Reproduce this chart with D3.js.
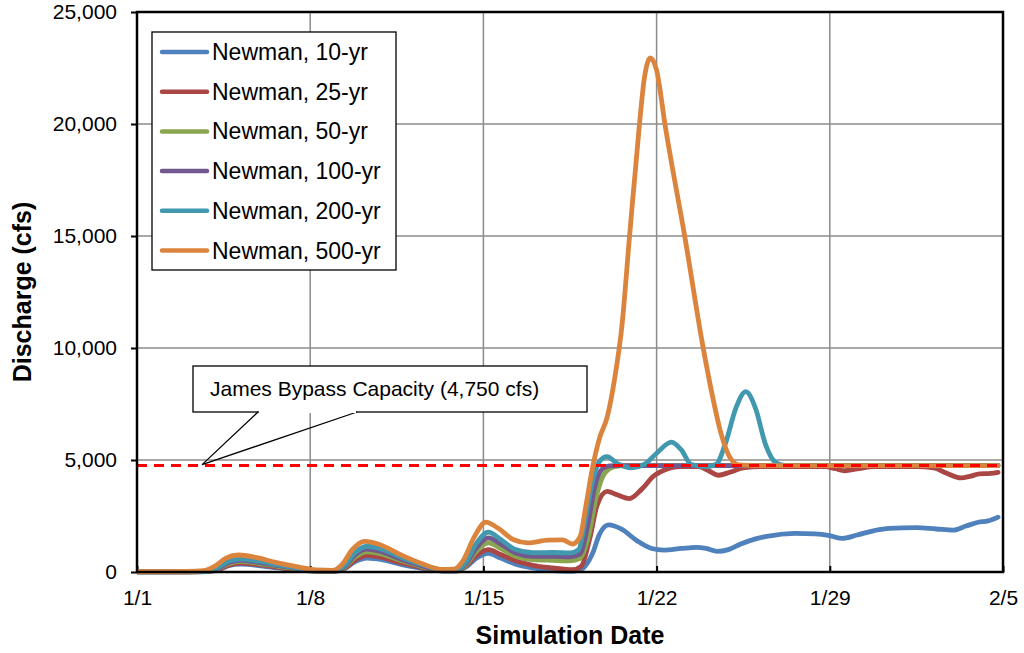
<!DOCTYPE html>
<html>
<head>
<meta charset="utf-8">
<script src="https://cdn.jsdelivr.net/npm/d3@7/dist/d3.min.js"></script>
<style>
  html, body { margin: 0; padding: 0; background: #fff; }
  svg { display: block; font-family: Arial, "Liberation Sans", sans-serif; }
</style>
</head>
<body>
<svg id="chart" width="1024" height="653"></svg>
<script>
// Discharge at Newman for each return-period event, [day since 1/1, cfs]
const newman10 = [[0,5],[2,5],[2.8,15],[3.3,100],[3.7,280],[4.2,350],[4.9,290],[5.7,180],[6.6,80],[7.4,30],[8,30],[8.4,150],[8.8,450],[9.3,620],[9.9,550],[10.7,330],[11.6,150],[12.4,40],[12.9,40],[13.3,230],[13.7,600],[14.2,830],[14.7,620],[15.3,350],[16,180],[16.8,60],[17.6,30],[18.0,150],[18.4,800],[18.7,1700],[19.05,2100],[19.6,1900],[20.2,1400],[20.8,1050],[21.3,980],[22,1050],[22.6,1100],[23.0,1050],[23.45,920],[23.9,1000],[24.4,1250],[25,1480],[25.8,1650],[26.6,1720],[27.4,1700],[28,1620],[28.5,1500],[29.1,1650],[29.8,1850],[30.4,1950],[31.5,1980],[32.3,1920],[33.0,1870],[33.5,2050],[34.0,2220],[34.4,2280],[34.8,2450]];
const newman25 = [[0,5],[2,8],[2.8,20],[3.3,120],[3.7,300],[4.2,400],[4.9,330],[5.7,210],[6.6,100],[7.4,40],[8,40],[8.4,170],[8.8,520],[9.3,740],[9.9,650],[10.7,400],[11.6,180],[12.4,50],[12.9,50],[13.3,270],[13.7,720],[14.2,1000],[14.7,780],[15.3,500],[16,300],[16.8,180],[17.6,100],[17.95,250],[18.3,1500],[18.6,3000],[19.0,3600],[19.4,3450],[19.9,3280],[20.4,3700],[20.9,4300],[21.2,4500],[22.0,4700],[22.7,4700],[23.1,4520],[23.5,4320],[23.95,4450],[24.5,4650],[25.2,4700],[27.8,4700],[28.2,4620],[28.6,4520],[29.1,4600],[29.8,4700],[31.5,4700],[32.2,4650],[32.7,4420],[33.3,4200],[33.7,4280],[34.05,4380],[34.5,4400],[34.8,4450]];
const newman50 = [[0,8],[2,10],[2.8,25],[3.3,150],[3.7,370],[4.2,470],[4.9,390],[5.7,250],[6.6,120],[7.4,45],[8,45],[8.4,210],[8.8,650],[9.3,900],[9.9,800],[10.7,500],[11.6,220],[12.4,60],[12.9,60],[13.3,320],[13.7,900],[14.2,1300],[14.7,1050],[15.3,700],[16,550],[16.8,520],[17.5,500],[17.9,600],[18.25,1600],[18.55,3300],[18.9,4400],[19.3,4700],[19.7,4750],[34.8,4750]];
const newman100 = [[0,10],[2,12],[2.8,30],[3.3,180],[3.7,420],[4.2,520],[4.9,430],[5.7,280],[6.6,140],[7.4,50],[8,50],[8.4,250],[8.8,750],[9.3,1020],[9.9,900],[10.7,560],[11.6,250],[12.4,70],[12.9,70],[13.3,380],[13.7,1050],[14.2,1520],[14.7,1250],[15.3,850],[16,700],[16.8,700],[17.5,680],[17.9,800],[18.2,2000],[18.5,3800],[18.8,4600],[19.1,4740],[19.5,4750],[34.8,4750]];
const newman200 = [[0,10],[2,15],[2.8,40],[3.3,220],[3.7,480],[4.2,580],[4.9,480],[5.7,320],[6.6,160],[7.4,60],[8,60],[8.4,300],[8.8,850],[9.3,1150],[9.9,1020],[10.7,650],[11.6,300],[12.4,90],[12.9,90],[13.3,450],[13.7,1250],[14.2,1780],[14.7,1450],[15.3,1000],[16,860],[16.8,870],[17.5,850],[17.85,1000],[18.1,2200],[18.4,4000],[18.7,4950],[19.0,5150],[19.4,4850],[20.0,4650],[20.5,4800],[21.0,5300],[21.6,5800],[22.0,5450],[22.4,4800],[23.0,4700],[23.4,4800],[23.8,5800],[24.2,7300],[24.6,8050],[25.0,7300],[25.4,5700],[25.8,4900],[26.2,4750],[34.8,4750]];
const newman500 = [[0,20],[1,20],[2,25],[2.7,60],[3.2,300],[3.6,620],[4.1,760],[4.8,650],[5.6,430],[6.5,230],[7.3,90],[7.9,70],[8.3,350],[8.7,1000],[9.2,1370],[9.8,1230],[10.6,800],[11.5,380],[12.3,120],[12.8,130],[13.2,550],[13.6,1500],[14.1,2230],[14.6,1950],[15.2,1450],[15.8,1300],[16.6,1420],[17.2,1430],[17.6,1250],[17.9,1550],[18.15,3000],[18.4,4600],[18.7,6000],[19.0,6900],[19.3,8600],[19.6,11000],[19.9,14900],[20.3,19900],[20.5,22000],[20.75,22950],[21.0,22400],[21.35,19900],[22.15,14900],[22.9,9900],[23.25,7900],[23.6,6200],[24.0,5050],[24.35,4780],[25,4750],[34.8,4750]];

const seriesNames = ["Newman, 10-yr","Newman, 25-yr","Newman, 50-yr","Newman, 100-yr","Newman, 200-yr","Newman, 500-yr"];
const seriesValues = [newman10, newman25, newman50, newman100, newman200, newman500];
const seriesColors = ["#4f81bd","#aa4643","#89a54e","#71588f","#4198af","#db843d"];

const dayTicks = [0, 7, 14, 21, 28, 35];
const dayTickLabels = ["1/1","1/8","1/15","1/22","1/29","2/5"];
const flowTicks = [0, 5000, 10000, 15000, 20000, 25000];

const capacity = 4750;
const capacityLabel = "James Bypass Capacity (4,750 cfs)";
const calloutDay = 2.63;

const svg = d3.select("#chart");
const plot = { left: 137, right: 1003, top: 12, bottom: 572 };

const x = d3.scaleLinear().domain([0, 35]).range([plot.left, plot.right]);
const y = d3.scaleLinear().domain([0, 25000]).range([plot.bottom, plot.top]);

// gridlines
const grid = svg.append("g");
grid.selectAll("line.h").data(flowTicks.slice(1)).join("line")
  .attr("x1", plot.left).attr("x2", plot.right)
  .attr("y1", d => y(d)).attr("y2", d => y(d))
  .attr("stroke", "#8c8c8c").attr("stroke-width", 1.5);
grid.selectAll("line.v").data(dayTicks.slice(1, -1)).join("line")
  .attr("x1", d => x(d)).attr("x2", d => x(d))
  .attr("y1", plot.top).attr("y2", plot.bottom)
  .attr("stroke", "#8c8c8c").attr("stroke-width", 1.5);

// axes
const yAxis = d3.axisLeft(y).tickValues(flowTicks).tickSize(6).tickPadding(14)
  .tickFormat(d3.format(","));
const gy = svg.append("g").attr("transform", `translate(${plot.left},0)`).call(yAxis);
gy.select(".domain").remove();
gy.selectAll(".tick line").attr("stroke", "#000").attr("stroke-width", 2);
gy.selectAll(".tick text").attr("font-size", 21).attr("fill", "#000")
  .attr("font-family", "Arial, 'Liberation Sans', sans-serif");

const xAxis = d3.axisBottom(x).tickValues(dayTicks).tickSize(-6).tickPadding(18)
  .tickFormat((d, i) => dayTickLabels[i]);
const gx = svg.append("g").attr("transform", `translate(0,${plot.bottom})`).call(xAxis);
gx.select(".domain").remove();
gx.selectAll(".tick line").attr("stroke", "#000").attr("stroke-width", 2);
gx.selectAll(".tick text").attr("font-size", 21).attr("fill", "#000")
  .attr("font-family", "Arial, 'Liberation Sans', sans-serif");

// series lines
const line = d3.line().x(d => x(d[0])).y(d => y(d[1])).curve(d3.curveMonotoneX);
const clip = svg.append("clipPath").attr("id", "plotclip").append("rect")
  .attr("x", plot.left).attr("y", plot.top)
  .attr("width", plot.right - plot.left).attr("height", plot.bottom - plot.top + 3);
svg.append("g").attr("clip-path", "url(#plotclip)")
  .selectAll("path").data(seriesValues).join("path")
  .attr("d", line)
  .attr("fill", "none")
  .attr("stroke", (d, i) => seriesColors[i])
  .attr("stroke-width", 4.8)
  .attr("stroke-linejoin", "round")
  .attr("stroke-linecap", "round");

// bypass capacity threshold
svg.append("line")
  .attr("x1", x(0)).attr("x2", x(34.8))
  .attr("y1", y(capacity)).attr("y2", y(capacity))
  .attr("stroke", "#ff0000").attr("stroke-width", 3)
  .attr("stroke-dasharray", "10,7");

// plot frame
svg.append("rect")
  .attr("x", plot.left).attr("y", plot.top)
  .attr("width", plot.right - plot.left).attr("height", plot.bottom - plot.top)
  .attr("fill", "none").attr("stroke", "#000").attr("stroke-width", 2.5);

// callout for the capacity line
const callout = svg.append("g");
callout.append("rect")
  .attr("x", 193).attr("y", 366).attr("width", 394).attr("height", 46)
  .attr("fill", "#fff").attr("stroke", "#000").attr("stroke-width", 1.3);
const tipX = x(calloutDay), tipY = y(capacity) - 1;
callout.append("polyline")
  .attr("points", `258,412 ${tipX},${tipY} 357,412`)
  .attr("fill", "none").attr("stroke", "#000").attr("stroke-width", 1.3);
callout.append("line")
  .attr("x1", 259).attr("x2", 356).attr("y1", 412).attr("y2", 412)
  .attr("stroke", "#fff").attr("stroke-width", 2);
callout.append("text")
  .attr("x", 210).attr("y", 396)
  .attr("font-size", 21).attr("fill", "#000")
  .text(capacityLabel);

// legend
const legend = svg.append("g");
legend.append("rect")
  .attr("x", 152).attr("y", 32).attr("width", 244).attr("height", 238)
  .attr("fill", "#fff").attr("stroke", "#000").attr("stroke-width", 1.3);
const rows = legend.selectAll("g.row").data(seriesNames).join("g")
  .attr("transform", (d, i) => `translate(0,${52 + i * 39.7})`);
rows.append("line")
  .attr("x1", 162).attr("x2", 207).attr("y1", 0).attr("y2", 0)
  .attr("stroke", (d, i) => seriesColors[i]).attr("stroke-width", 4.5)
  .attr("stroke-linecap", "round");
rows.append("text")
  .attr("x", 212).attr("y", 8)
  .attr("font-size", 23).attr("fill", "#000")
  .text(d => d);

// axis titles
svg.append("text")
  .attr("x", (plot.left + plot.right) / 2).attr("y", 644)
  .attr("text-anchor", "middle").attr("font-size", 25).attr("font-weight", "bold")
  .text("Simulation Date");
svg.append("text")
  .attr("transform", `translate(31,${(plot.top + plot.bottom) / 2}) rotate(-90)`)
  .attr("text-anchor", "middle").attr("font-size", 25).attr("font-weight", "bold")
  .text("Discharge (cfs)");
</script>
</body>
</html>
